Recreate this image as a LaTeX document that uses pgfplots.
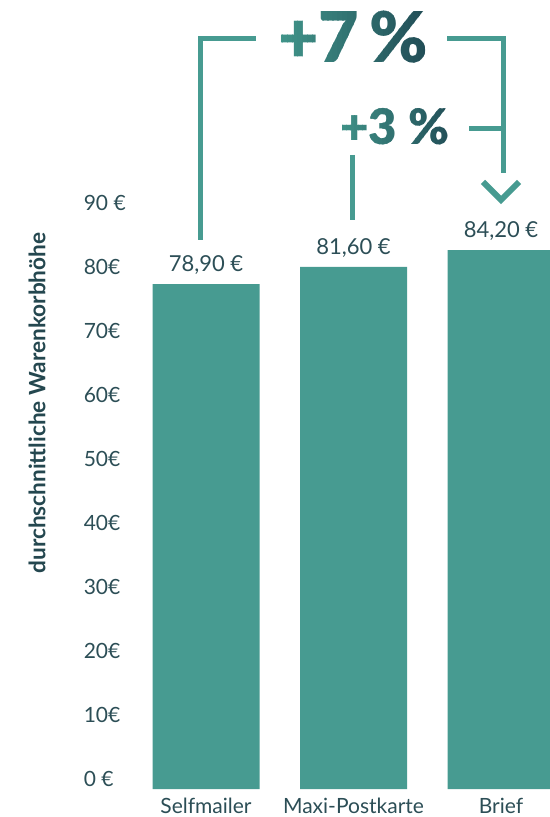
\documentclass[border=0pt]{standalone}
\usepackage{pgfplots}
\pgfplotsset{compat=1.18}
\usepackage{fontspec}
\setmainfont{Lato}
\IfFontExistsTF{Lato Black}{\newfontfamily\heavy{Lato Black}}{%
  \IfFontExistsTF{Lato Heavy}{\newfontfamily\heavy{Lato Heavy}}{\newcommand\heavy{\bfseries}}}
\definecolor{bar}{HTML}{479B91}
\definecolor{txt}{HTML}{2C4E56}
\definecolor{ylab}{HTML}{24474F}
\definecolor{gl}{HTML}{40958A}
\definecolor{gr}{HTML}{224E57}
% gradient text by thin vertical clipped strips: #1 x, #2 y (bp numbers), #3 font, #4 text, #5 width
\newcommand\gradtext[5]{%
  \foreach \i in {0,...,29} {%
    \pgfmathtruncatemacro\p{100-\i*100/29}%
    \begin{scope}
      \clip ({(#1-#5/2+\i*#5/30)*1bp},{(#2-60)*1bp}) rectangle ++({(#5/30+0.4)*1bp},120bp);
      \node[text=gl!\p!gr, font=#3, inner sep=0pt] at (#1bp,#2bp) {#4};
    \end{scope}
  }%
}
\begin{document}
\begin{tikzpicture}
\path[use as bounding box, clip] (0,0) rectangle (550bp,817bp);
\begin{axis}[
  anchor=origin, at={(206bp,28bp)},
  x=147.5bp, y=6.4bp,
  xmin=-0.83, xmax=2.4, ymin=0, ymax=95,
  ybar, bar width=107bp, bar shift=0pt,
  clip=false,
  axis line style={draw=none}, tick style={draw=none}, major tick length=0pt,
  xtick=data, xticklabels={Selfmailer,Maxi-Postkarte,Brief},
  xticklabel style={anchor=base, yshift=-24bp, text=txt, font=\fontsize{21bp}{25bp}\selectfont},
  ytick={0,10,...,90},
  yticklabels={0 €,10€,20€,30€,40€,50€,60€,70€,80€,90 €},
  yticklabel style={anchor=west, inner xsep=0pt, yshift=10bp, text=txt, font=\fontsize{21bp}{25bp}\selectfont},
  nodes near coords, point meta=explicit symbolic,
  nodes near coords style={anchor=center, yshift=19bp, text=txt, font=\fontsize{22bp}{26bp}\selectfont},
]
\addplot[fill=bar, draw=none] coordinates {(0,78.9)[78,90 €] (1,81.6)[81,60 €] (2,84.2)[84,20 €]};
\end{axis}
\node[rotate=90, text=ylab, font=\fontsize{22.6bp}{26bp}\selectfont\bfseries] at (37bp,414bp) {durchschnittliche Warenkorbhöhe};
% brackets
\draw[bar, line width=5bp] (200bp,577bp) -- (200bp,778bp) -- (256bp,778bp);
\draw[bar, line width=5bp] (447bp,778bp) -- (503bp,778bp) -- (503bp,644bp);
\draw[bar, line width=6bp] (483bp,635bp) -- (501bp,617bp) -- (519bp,635bp);
\draw[bar, line width=5bp] (469bp,688bp) -- (503bp,688bp);
\draw[bar, line width=5bp] (352bp,662bp) -- (352bp,597bp);
\gradtext{353}{779.5}{\fontsize{70bp}{72bp}\selectfont\heavy}{+7\hspace{10bp}\%}{152}
\gradtext{395}{690}{\fontsize{49bp}{51bp}\selectfont\heavy}{+3\hspace{12bp}\%}{122}
\end{tikzpicture}
\end{document}
